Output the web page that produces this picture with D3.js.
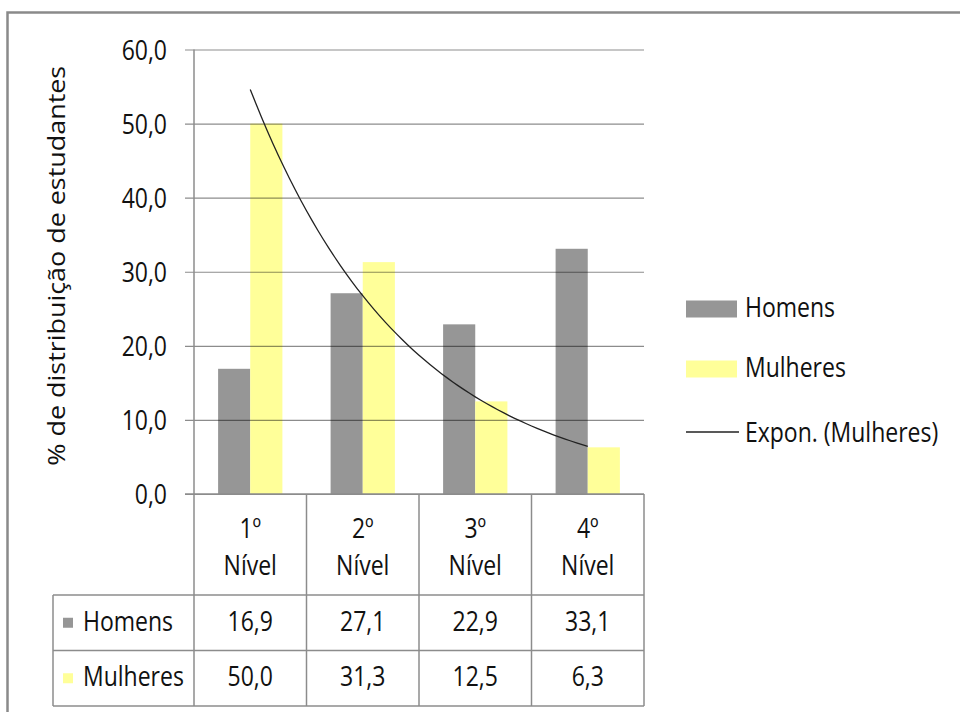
<!DOCTYPE html>
<html>
<head>
<meta charset="utf-8">
<script src="https://cdn.jsdelivr.net/npm/d3@7"></script>
<style>
  html, body { margin: 0; padding: 0; background: #fff; }
  svg { display: block; font-family: "Open Sans", sans-serif; }
</style>
</head>
<body>
<svg id="chart" width="960" height="712"></svg>
<script>
// Distribuição de estudantes por nível e sexo (%)
const niveis = ["1º Nível", "2º Nível", "3º Nível", "4º Nível"];
const series = ["Homens", "Mulheres"];
const homens = [16.9, 27.1, 22.9, 33.1];
const mulheres = [50.0, 31.3, 12.5, 6.3];
const yTicks = [0, 10, 20, 30, 40, 50, 60];
const colors = { Homens: "#969696", Mulheres: "#ffff99" };
const yTitle = "% de distribuição de estudantes";
const trendLabel = "Expon. (Mulheres)";

const values = { Homens: homens, Mulheres: mulheres };

const svg = d3.select("#chart");
const fontSize = 23;
const stretch = 1.17;          // tall, narrow lettering
const lineColor = "#8c8c8c";
const textColor = "#111";

// pt-BR number format: decimal comma
const ptBR = d3.formatLocale({ decimal: ",", thousands: ".", grouping: [3], currency: ["R$", ""] });
const fmt = ptBR.format(".1f");

// text helper: anchored at (x, baseline y), vertically stretched
function label(parent, x, yy, str, anchor = "start") {
  return parent.append("text")
    .attr("transform", `translate(${x},${yy}) scale(1,${stretch})`)
    .attr("text-anchor", anchor)
    .attr("font-size", fontSize).attr("fill", textColor)
    .text(str);
}

// plot area
const plotL = 194, plotR = 644, plotT = 49.5, plotB = 494;
const y = d3.scaleLinear().domain([0, 60]).range([plotB, plotT]);
const x0 = d3.scaleBand().domain(niveis).range([plotL, plotR]).padding(0);
const groupW = x0.bandwidth() * 2 / 3.5; // gap width 150%
const x1 = d3.scaleBand().domain(series)
  .range([(x0.bandwidth() - groupW) / 2, (x0.bandwidth() + groupW) / 2]).padding(0);

// outer frame
svg.append("rect")
  .attr("x", 7.5).attr("y", 12.5).attr("width", 980).attr("height", 740)
  .attr("fill", "none").attr("stroke", "#8a8a8a").attr("stroke-width", 2.5);

// bars
const groups = svg.append("g").selectAll("g").data(niveis).join("g")
  .attr("transform", d => `translate(${x0(d)},0)`);
groups.selectAll("rect")
  .data((d, i) => series.map(s => ({ s, v: values[s][i] })))
  .join("rect")
  .attr("x", d => x1(d.s))
  .attr("width", x1.bandwidth())
  .attr("y", d => y(d.v))
  .attr("height", d => y(0) - y(d.v))
  .attr("fill", d => colors[d.s]);

// horizontal gridlines with tick marks (drawn over bars)
const yAxis = d3.axisLeft(y).tickValues(yTicks).tickSize(-(plotR - plotL)).tickFormat(fmt);
const gy = svg.append("g").attr("transform", `translate(${plotL},0)`).call(yAxis);
gy.select(".domain").remove();
gy.selectAll(".tick line")
  .attr("x1", -9)
  .attr("stroke", "#000").attr("stroke-opacity", 0.45).attr("stroke-width", 1.2);
gy.selectAll(".tick text")
  .attr("font-size", fontSize).attr("font-family", "Open Sans, sans-serif")
  .attr("fill", textColor).attr("x", -27).attr("dy", "0.36em")
  .attr("transform", `scale(1,${stretch})`);

// vertical axis line
svg.append("line")
  .attr("x1", plotL).attr("x2", plotL).attr("y1", plotT).attr("y2", plotB)
  .attr("stroke", lineColor).attr("stroke-width", 1.5);

// exponential trendline: least squares fit of ln(y) against x = 1..n
const xs = mulheres.map((_, i) => i + 1);
const ly = mulheres.map(v => Math.log(v));
const mx = d3.mean(xs), my = d3.mean(ly);
const b = d3.sum(xs, (xv, i) => (xv - mx) * (ly[i] - my)) / d3.sum(xs, xv => (xv - mx) ** 2);
const a = Math.exp(my - b * mx);
const xc = k => x0(niveis[0]) + x0.bandwidth() / 2 + (k - 1) * x0.step();
const trendPts = d3.range(1, niveis.length + 0.001, 0.05).map(k => [xc(k), y(a * Math.exp(b * k))]);
svg.append("path")
  .attr("d", d3.line()(trendPts))
  .attr("fill", "none").attr("stroke", "#222").attr("stroke-width", 1.3);

// data table
const tableTop = plotB, headBottom = 595, rowH = 55.5;
const rowLeft = 53;
const table = svg.append("g").attr("stroke", lineColor).attr("stroke-width", 1.5);
// column borders
d3.range(niveis.length + 1).forEach(i => {
  const xx = plotL + i * x0.step();
  table.append("line").attr("x1", xx).attr("x2", xx)
    .attr("y1", tableTop).attr("y2", headBottom + 2 * rowH);
});
// top border of header cells
table.append("line").attr("x1", plotL - 9).attr("x2", plotR).attr("y1", tableTop).attr("y2", tableTop);
// row borders
[0, 1, 2].forEach(r => {
  const yy = headBottom + r * rowH;
  table.append("line").attr("x1", rowLeft).attr("x2", plotR).attr("y1", yy).attr("y2", yy);
});
table.append("line").attr("x1", rowLeft).attr("x2", rowLeft)
  .attr("y1", headBottom).attr("y2", headBottom + 2 * rowH);

// header labels (two lines)
const headG = svg.append("g");
niveis.forEach(d => {
  const cx = x0(d) + x0.bandwidth() / 2;
  const [ord, word] = d.split(" ");
  label(headG, cx, 538, ord, "middle");
  label(headG, cx, 575, word, "middle");
});

// table rows
series.forEach((s, r) => {
  const base = headBottom + r * rowH + rowH / 2 + 8;
  svg.append("rect").attr("x", 63).attr("y", base - 13).attr("width", 10).attr("height", 10)
    .attr("fill", colors[s]);
  const rowG = svg.append("g");
  label(rowG, 83, base, s);
  values[s].forEach((v, i) => label(rowG, x0(niveis[i]) + x0.bandwidth() / 2, base, fmt(v), "middle"));
});

// legend
const legend = svg.append("g").attr("transform", "translate(686,0)");
const legendItems = [
  { label: "Homens", type: "rect", color: colors.Homens, base: 317 },
  { label: "Mulheres", type: "rect", color: colors.Mulheres, base: 377 },
  { label: trendLabel, type: "line", color: "#222", base: 442 }
];
legendItems.forEach(it => {
  if (it.type === "rect") {
    legend.append("rect").attr("x", 0).attr("y", it.base - 16.5).attr("width", 51).attr("height", 17)
      .attr("fill", it.color);
  } else {
    legend.append("line").attr("x1", 0).attr("x2", 53).attr("y1", it.base - 10).attr("y2", it.base - 10)
      .attr("stroke", it.color).attr("stroke-width", 1.4);
  }
  label(legend, 59, it.base, it.label);
});

// y-axis title (rotated; lettering stretched along the page's vertical)
svg.append("text")
  .attr("transform", `translate(65,${(plotT + plotB) / 2 - 6}) rotate(-90) scale(${stretch},1)`)
  .attr("text-anchor", "middle").attr("font-size", fontSize).attr("fill", textColor)
  .text(yTitle);
</script>
</body>
</html>
